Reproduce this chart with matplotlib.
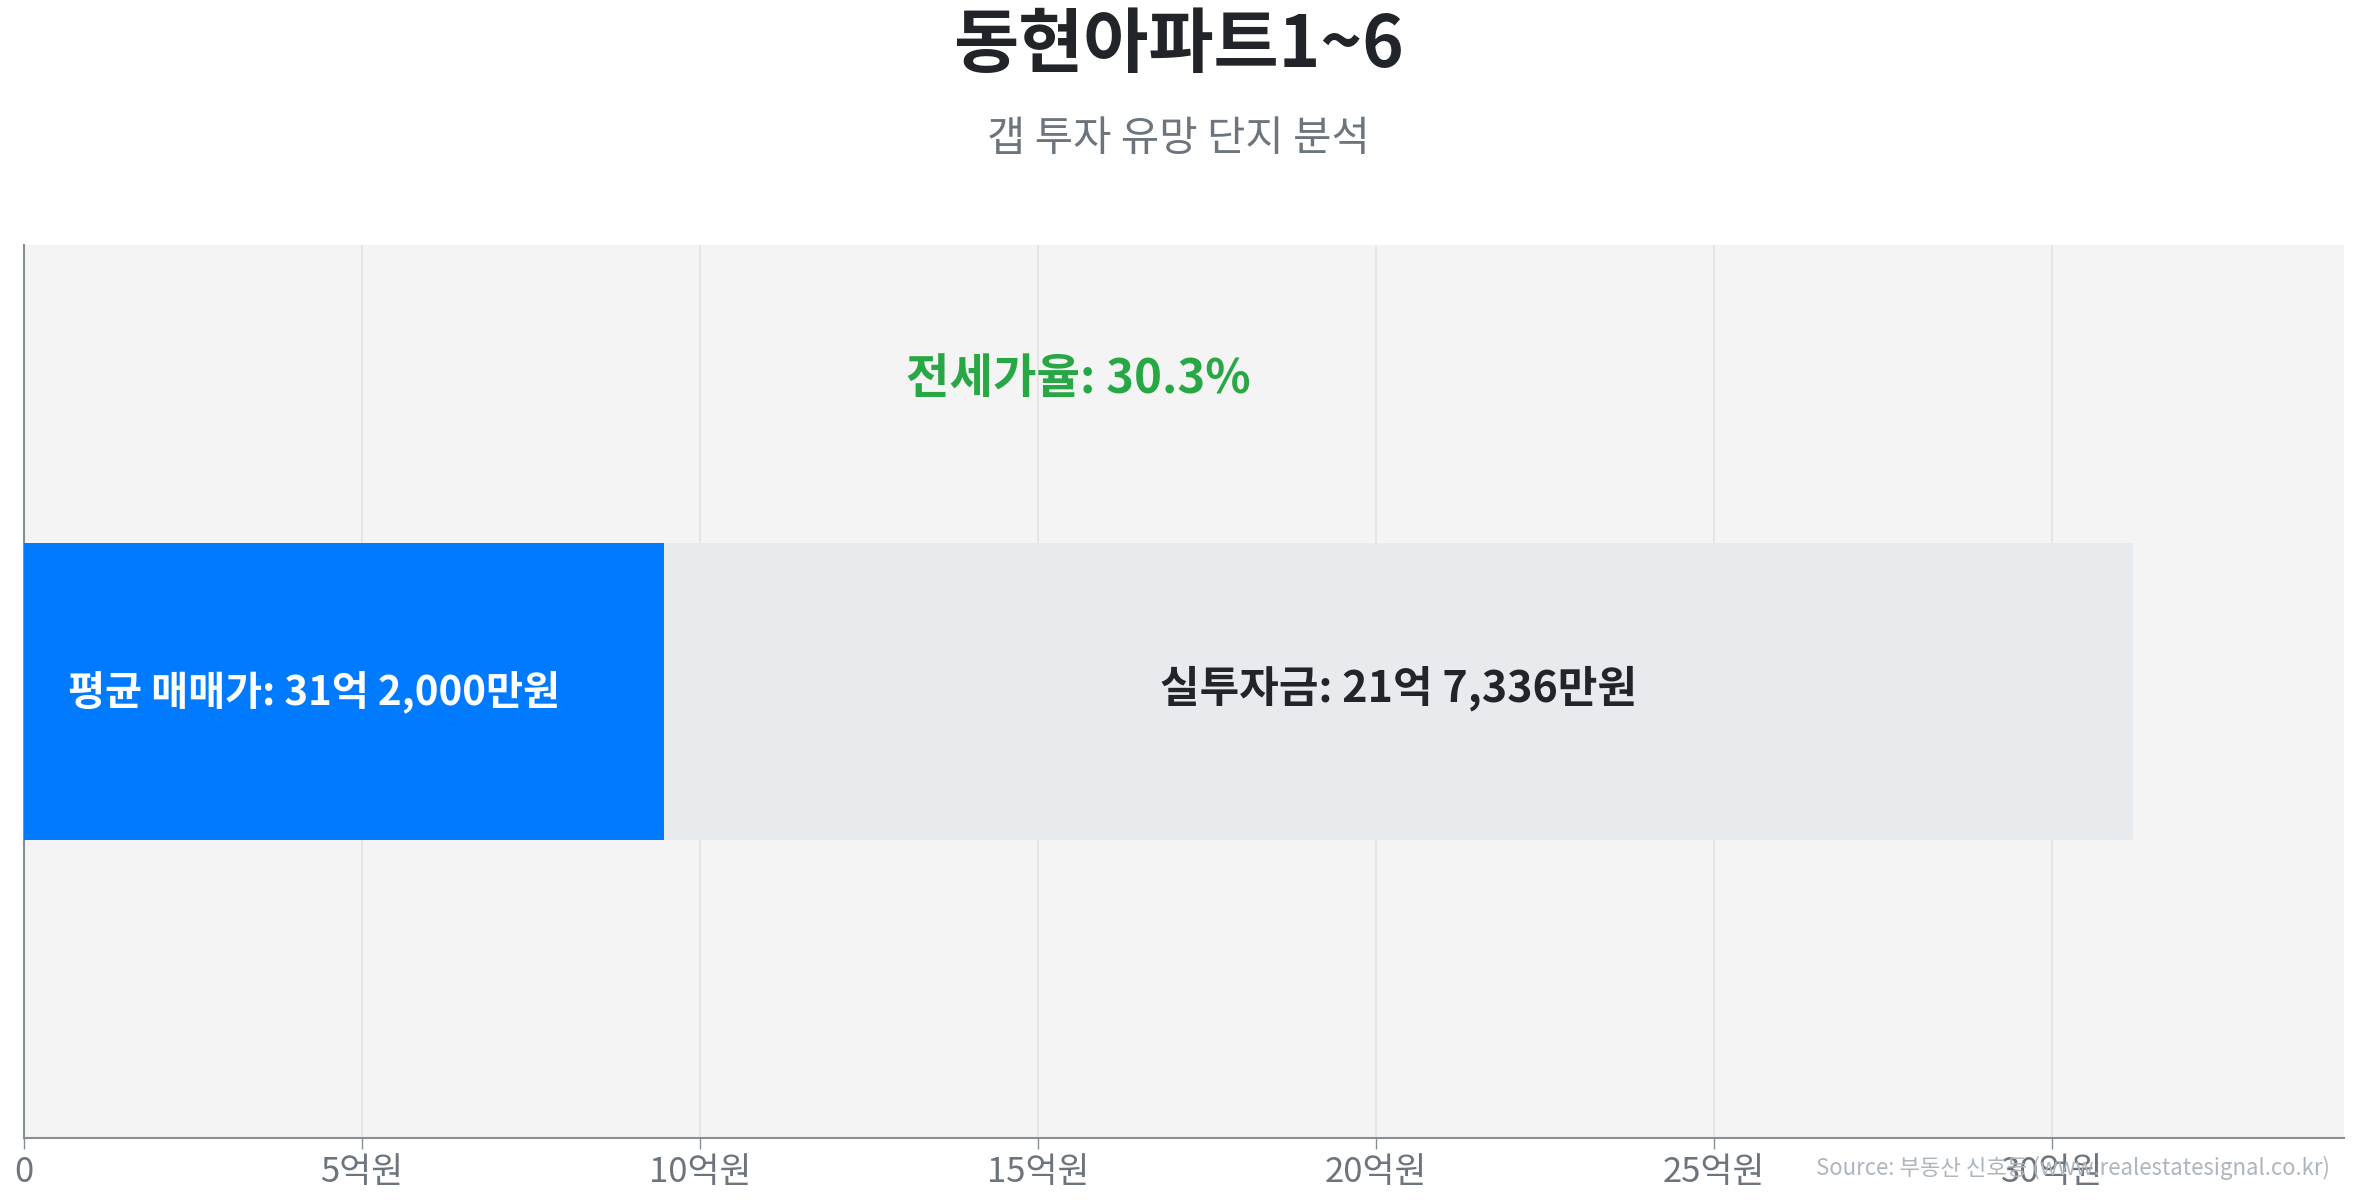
import matplotlib
matplotlib.use("Agg")
import matplotlib.pyplot as plt

plt.rcParams['font.family'] = ['Noto Sans CJK KR', 'DejaVu Sans']

# Data (억원)
title = "동현아파트1~6"
subtitle = "갭 투자 유망 단지 분석"
avg_price = 31.2          # 평균 매매가 (억)
invest = 21.7336          # 실투자금 (억)
jeonse = avg_price - invest
jeonse_ratio = 30.3
tick_values = [0, 5, 10, 15, 20, 25, 30]
tick_labels = ["0", "5억원", "10억원", "15억원", "20억원", "25억원", "30억원"]
price_label = "평균 매매가: 31억 2,000만원"
invest_label = "실투자금: 21억 7,336만원"
ratio_label = f"전세가율: {jeonse_ratio}%"
source = "Source: 부동산 신호등 (www.realestatesignal.co.kr)"

fig = plt.figure(figsize=(23.57, 12), dpi=100)
ax = fig.add_axes([24/2357, 1-1138/1200, (2344-24)/2357, (1138-245)/1200])
ax.set_facecolor('#f4f4f4')

ax.barh(0, jeonse, height=1, left=0, color='#007bff', zorder=3)
ax.barh(0, invest, height=1, left=jeonse, color='#e8ebee', zorder=3)

ax.set_xlim(0, avg_price * 1.1)
ax.set_ylim(-1.5, 1.5)
ax.set_yticks([])
ax.set_xticks(tick_values)
ax.set_xticklabels(tick_labels, fontsize=25, color='#6c757d')
ax.tick_params(axis='x', length=8, width=1, color='#868e96', pad=4)
ax.grid(axis='x', color='#e3e3e3', linewidth=1.2, zorder=0)
for s in ['top', 'right']:
    ax.spines[s].set_visible(False)
ax.spines['left'].set_color('#868e96')
ax.spines['bottom'].set_color('#868e96')
ax.spines['left'].set_linewidth(1.5)
ax.spines['bottom'].set_linewidth(1.5)

ax.annotate(price_label, xy=(0, 0), xytext=(32, 0), textcoords='offset points',
            ha='left', va='center', fontsize=29, fontweight='bold', color='white', zorder=5)
ax.text(jeonse + invest / 2, 0.01, invest_label, ha='center', va='center',
        fontsize=31, fontweight='bold', color='#212529', zorder=5)
ax.text(avg_price / 2, 1.05, ratio_label, ha='center', va='center',
        fontsize=34, fontweight='bold', color='#28a745', zorder=5)

fig.text(0.5, 1 - 46/1200, title, ha='center', va='center', fontsize=51,
         fontweight='bold', color='#212529')
fig.text(0.5, 1 - 140/1200, subtitle, ha='center', va='center', fontsize=30,
         color='#6c757d')
fig.text(2330/2357, 1 - 1168/1200, source, ha='right', va='center', fontsize=16,
         color='#adb5bd')

fig.savefig('out.png', dpi=100)
